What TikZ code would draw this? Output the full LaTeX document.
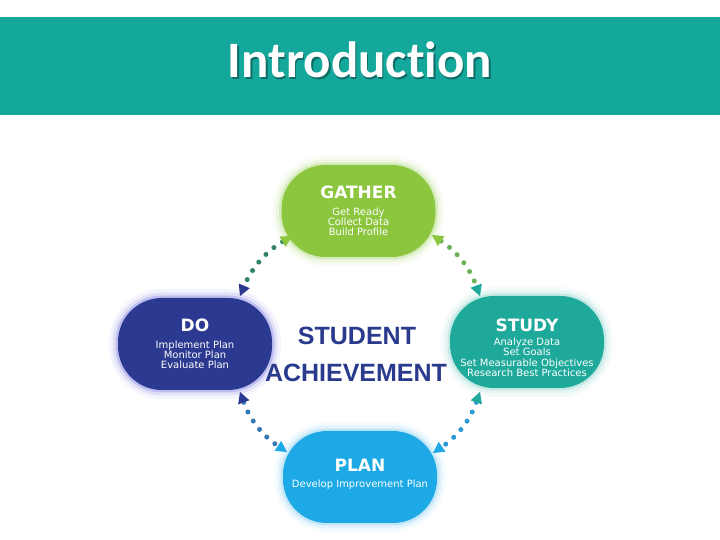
\documentclass[tikz,border=0pt]{standalone}
\usepackage{fontspec}
\usetikzlibrary{arrows.meta}
\newfontfamily\dvsans{DejaVu Sans}
\newfontfamily\carl[Ligatures={NoCommon,NoRequired,NoContextual}]{Carlito}
\newfontfamily\libsans{Liberation Sans}
\definecolor{barteal}{HTML}{14A89D}
\definecolor{cgather}{HTML}{8CC63F}
\definecolor{cdo}{HTML}{2B3990}
\definecolor{cstudy}{HTML}{1EA99B}
\definecolor{cplan}{HTML}{1CA9E6}
\definecolor{cnavy}{HTML}{2A3A8C}
\definecolor{gdo}{HTML}{6E6EE0}
\definecolor{ggather}{HTML}{A6D86A}
\definecolor{gstudy}{HTML}{7ED3C9}
\definecolor{gplan}{HTML}{7CCCF4}
\definecolor{dot1}{HTML}{2E8465}
\definecolor{dot2}{HTML}{68B257}
\definecolor{dot3}{HTML}{3279B6}
\definecolor{dot4}{HTML}{2C9AD4}
\tikzset{
  glowing/.style={
    preaction={draw=#1,line width=18pt,draw opacity=0.07},
    preaction={draw=#1,line width=11pt,draw opacity=0.14},
    preaction={draw=#1,line width=5pt,draw opacity=0.3}},
  stage/.style={rectangle,rounded corners=44pt,inner sep=0pt,
    minimum width=154pt,minimum height=92pt,text=white,align=center,
    font=\dvsans\fontsize{10}{10.2}\selectfont},
  conn/.style={line width=5pt,line cap=round,dash pattern=on 0pt off 10.5pt}
}
\newcommand{\stt}[1]{{\dvsans\bfseries\fontsize{17}{17}\selectfont #1}}
\begin{document}
\begin{tikzpicture}[x=1pt,y=1pt]
\useasboundingbox (0,0) rectangle (720,540);
\fill[white] (0,0) rectangle (720,540);
% title bar
\fill[barteal] (0,425) rectangle (720,523);
\node[anchor=base,text=black,opacity=0.35,font=\carl\bfseries\fontsize{51}{51}\selectfont] (titleshadow) at (361.5,460.5) {Introduction};
\node[anchor=base,text=white,font=\carl\bfseries\fontsize{51}{51}\selectfont] (title) at (360,462) {Introduction};
% stages
\node[stage,fill=cgather,glowing=ggather] (gather) at (358.5,329)
  {\stt{GATHER}\\[6pt]Get Ready\\Collect Data\\Build Profile};
\node[stage,fill=cdo,glowing=gdo] (do) at (195,196)
  {\stt{DO}\\[6pt]Implement Plan\\Monitor Plan\\Evaluate Plan};
\node[stage,fill=cstudy,glowing=gstudy] (study) at (527,198)
  {\rule{0pt}{24pt}\stt{STUDY}\\[4pt]Analyze Data\\Set Goals\\Set Measurable Objectives\\Research Best Practices};
\node[stage,fill=cplan,glowing=gplan] (plan) at (360,63)
  {\stt{PLAN}\\[6pt]Develop Improvement Plan\rule[-7pt]{0pt}{7pt}};
% centre text
\node[anchor=base,text=cnavy,font=\libsans\bfseries\fontsize{25}{25}\selectfont] (student) at (357,195) {STUDENT};
\node[anchor=base,text=cnavy,font=\libsans\bfseries\fontsize{25}{25}\selectfont] (achieve) at (356,158.5) {ACHIEVEMENT};
% connectors
\draw[conn,dot1,{Triangle[length=11pt,width=12pt,line width=0pt,color=cgather]}-{Triangle[length=11pt,width=12pt,line width=0pt,color=cdo]}]
  ([shift={(-66.5,-25)}]gather.center) to[bend right=18] ([shift={(45,48)}]do.center);
\draw[conn,dot2,{Triangle[length=11pt,width=12pt,line width=0pt,color=cgather]}-{Triangle[length=11pt,width=12pt,line width=0pt,color=cstudy]}]
  ([shift={(73.5,-24)}]gather.center) to[bend left=18] ([shift={(-47,46)}]study.center);
\draw[conn,dot3,{Triangle[length=11pt,width=12pt,line width=0pt,color=cdo]}-{Triangle[length=11pt,width=12pt,line width=0pt,color=cplan]}]
  ([shift={(45,-48)}]do.center) to[bend right=18] ([shift={(-73,25)}]plan.center);
\draw[conn,dot4,{Triangle[length=11pt,width=12pt,line width=0pt,color=cstudy]}-{Triangle[length=11pt,width=12pt,line width=0pt,color=cplan]}]
  ([shift={(-47,-50)}]study.center) to[bend left=18] ([shift={(73,24)}]plan.center);
\end{tikzpicture}
\end{document}
